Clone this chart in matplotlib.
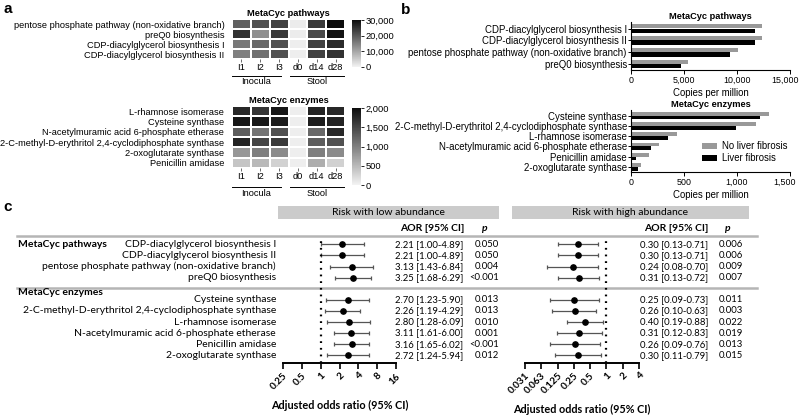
import numpy as np
import matplotlib
matplotlib.use("Agg")
import matplotlib.pyplot as plt
from matplotlib.patches import Rectangle
from matplotlib.colors import LinearSegmentedColormap
import matplotlib.transforms as mtrans

plt.rcParams['font.family'] = ['Liberation Sans', 'DejaVu Sans']

# ---- panel a: heatmaps ----
samples = ["I1", "I2", "I3", "d0", "d14", "d28"]
heat_pathways = ["pentose phosphate pathway (non-oxidative branch)", "preQ0 biosynthesis",
                 "CDP-diacylglycerol biosynthesis I", "CDP-diacylglycerol biosynthesis II"]
heat_pathway_vals = [[19000, 21000, 23000, 1000, 24000, 30000],
                     [25000, 13000, 24000, 1000, 22000, 29000],
                     [16000, 18000, 21000, 800, 23000, 26000],
                     [15000, 17000, 21000, 800, 23000, 25000]]
heat_enzymes = ["L-rhamnose isomerase", "Cysteine synthase",
                "N-acetylmuramic acid 6-phosphate etherase",
                "2-C-methyl-D-erythritol 2,4-cyclodiphosphate synthase",
                "2-oxoglutarate synthase", "Penicillin amidase"]
heat_enzyme_vals = [[1750, 1650, 1900, 50, 1800, 1750],
                    [1900, 1900, 1850, 50, 1850, 1800],
                    [1300, 1100, 1400, 50, 1200, 1750],
                    [1800, 1500, 1600, 50, 1300, 1400],
                    [800, 1000, 900, 50, 1000, 900],
                    [400, 500, 300, 50, 600, 300]]

# ---- panel b: bars ----
bar_pathways = ["CDP-diacylglycerol biosynthesis I", "CDP-diacylglycerol biosynthesis II",
                "pentose phosphate pathway (non-oxidative branch)", "preQ0 biosynthesis"]
bar_path_nofib = [12400, 12400, 10100, 5400]
bar_path_fib = [11700, 11700, 9300, 4700]
bar_enzymes = ["Cysteine synthase", "2-C-methyl-D-erythritol 2,4-cyclodiphosphate synthase",
               "L-rhamnose isomerase", "N-acetylmuramic acid 6-phosphate etherase",
               "Penicillin amidase", "2-oxoglutarate synthase"]
bar_enz_nofib = [1300, 1180, 430, 265, 170, 95]
bar_enz_fib = [1220, 990, 350, 185, 50, 65]

# ---- panel c: forest ----
forest_pathways = ["CDP-diacylglycerol biosynthesis I", "CDP-diacylglycerol biosynthesis II",
                   "pentose phosphate pathway (non-oxidative branch)", "preQ0 biosynthesis"]
forest_enzymes = ["Cysteine synthase", "2-C-methyl-D-erythritol 2,4-cyclodiphosphate synthase",
                  "L-rhamnose isomerase", "N-acetylmuramic acid 6-phosphate etherase",
                  "Penicillin amidase", "2-oxoglutarate synthase"]
low_aor = [2.21, 2.21, 3.13, 3.25, 2.70, 2.26, 2.80, 3.11, 3.16, 2.72]
low_lo = [1.00, 1.00, 1.43, 1.68, 1.23, 1.19, 1.28, 1.61, 1.65, 1.24]
low_hi = [4.89, 4.89, 6.84, 6.29, 5.90, 4.29, 6.09, 6.00, 6.02, 5.94]
low_p = ["0.050", "0.050", "0.004", "<0.001", "0.013", "0.013", "0.010", "0.001", "<0.001", "0.012"]
high_aor = [0.30, 0.30, 0.24, 0.31, 0.25, 0.26, 0.40, 0.31, 0.26, 0.30]
high_lo = [0.13, 0.13, 0.08, 0.13, 0.09, 0.10, 0.19, 0.12, 0.09, 0.11]
high_hi = [0.71, 0.71, 0.70, 0.72, 0.73, 0.63, 0.88, 0.83, 0.76, 0.79]
high_p = ["0.006", "0.006", "0.009", "0.007", "0.011", "0.003", "0.022", "0.019", "0.013", "0.015"]
low_ticks = [0.25, 0.5, 1, 2, 4, 8, 16]
low_ticklabels = ["0.25", "0.5", "1", "2", "4", "8", "16"]
high_ticks = [2 ** -5, 2 ** -4, 0.125, 0.25, 0.5, 1, 2, 4]
high_ticklabels = ["0.031", "0.063", "0.125", "0.25", "0.5", "1", "2", "4"]

W, H = 800, 415
fig = plt.figure(figsize=(W / 100, H / 100), dpi=100)


def px_axes(l, t, r, b):
    ax = fig.add_axes([l / W, 1 - b / H, (r - l) / W, (b - t) / H])
    ax.patch.set_alpha(0)
    return ax


ov = px_axes(0, 0, W, H)
ov.set_xlim(0, W)
ov.set_ylim(H, 0)
ov.axis('off')

FS = 6.7
cmap = LinearSegmentedColormap.from_list('gr', ['#f3f3f3', '#0c0c0c'])


def heatmap(rows, vals, vmax, top, bottom, cb_top, cb_bottom, cticks, title, group_y):
    ax = px_axes(232, top, 345, bottom)
    mesh = ax.pcolormesh(np.array(vals), cmap=cmap, vmin=0, vmax=vmax,
                         edgecolors='white', linewidth=1.1)
    ax.set_ylim(len(rows), 0)
    ax.set_yticks(np.arange(len(rows)) + 0.5)
    ax.set_yticklabels(rows, fontsize=FS)
    ax.set_xticks(np.arange(len(samples)) + 0.5)
    ax.set_xticklabels(samples, fontsize=FS)
    ax.tick_params(axis='y', left=False, pad=2)
    ax.tick_params(axis='x', length=2, width=0.6, pad=1, color='#555555')
    for s in ax.spines.values():
        s.set_visible(False)
    ax.set_title(title, fontsize=FS, fontweight='bold', pad=2)
    cax = px_axes(352, cb_top, 361, cb_bottom)
    cb = fig.colorbar(mesh, cax=cax, ticks=cticks)
    cb.outline.set_visible(False)
    cb.ax.set_yticklabels([f"{t:,}" for t in cticks], fontsize=FS)
    cb.ax.tick_params(length=2, width=0.6, pad=1)
    for x0, x1, lab in [(232, 281, "Inocula"), (290, 344, "Stool")]:
        ov.plot([x0, x1], [group_y, group_y], color='black', lw=0.7)
        ov.text((x0 + x1) / 2, group_y + 6, lab, fontsize=FS, ha='center', va='center')


heatmap(heat_pathways, heat_pathway_vals, 30000, 19, 59, 20, 67,
        [0, 10000, 20000, 30000], "MetaCyc pathways", 76)
heatmap(heat_enzymes, heat_enzyme_vals, 2000, 106, 168, 108, 185,
        [0, 500, 1000, 1500, 2000], "MetaCyc enzymes", 187)


def bars(cats, nofib, fib, top, bottom, xmax, xticks, title, legend=False):
    ax = px_axes(631, top, 790, bottom)
    y = np.arange(len(cats))
    ax.barh(y - 0.19, nofib, height=0.36, color='#999999', label='No liver fibrosis')
    ax.barh(y + 0.19, fib, height=0.36, color='black', label='Liver fibrosis')
    ax.set_ylim(len(cats) - 0.5, -0.55)
    ax.set_xlim(0, xmax)
    ax.set_yticks(y)
    ax.set_yticklabels(cats, fontsize=6.9)
    ax.set_xticks(xticks)
    ax.set_xticklabels([f"{t:,}" for t in xticks], fontsize=6.4)
    ax.tick_params(axis='y', length=2, width=0.7, pad=1)
    ax.tick_params(axis='x', length=3, width=0.7, pad=1.5)
    # keep the widest end label inside the figure
    last = ax.get_xticklabels()[-1]
    last.set_transform(last.get_transform() +
                       mtrans.ScaledTranslation(-5 / 100, 0, fig.dpi_scale_trans))
    for s in ['top', 'right']:
        ax.spines[s].set_visible(False)
    for s in ['left', 'bottom']:
        ax.spines[s].set_linewidth(0.8)
    ax.set_xlabel("Copies per million", fontsize=6.9, labelpad=2)
    ax.set_title(title, fontsize=FS, fontweight='bold', pad=2)
    if legend:
        ax.legend(loc='lower right', bbox_to_anchor=(1.04, 0.0), frameon=False,
                  fontsize=6.9, handlelength=1.6, handleheight=0.6,
                  handletextpad=0.5, labelspacing=0.2)


bars(bar_pathways, bar_path_nofib, bar_path_fib, 22, 70, 15000,
     [0, 5000, 10000, 15000], "MetaCyc pathways")
bars(bar_enzymes, bar_enz_nofib, bar_enz_fib, 110, 172, 1500,
     [0, 500, 1000, 1500], "MetaCyc enzymes", legend=True)

# ---- panel c ----
CF = 'Lato'
CS = 7.5
NS = 6.8
row0_px, row_step, axis_px = 244.3, 11.1, 363
pos = np.r_[np.arange(len(forest_pathways)), np.arange(len(forest_enzymes)) + len(forest_pathways) + 1]
y_bottom = (axis_px - row0_px) / row_step
y_top = -0.4
top_px = row0_px + y_top * row_step


def forest(l, r, aor, lo, hi, xlim, ticks, ticklabels):
    ax = px_axes(l, top_px, r, axis_px)
    aor, lo, hi = map(np.array, (aor, lo, hi))
    ax.set_xscale('log', base=2)
    ax.errorbar(aor, pos, xerr=[aor - lo, hi - aor], fmt='o', color='black', ms=3.8,
                ecolor='#555555', elinewidth=0.9, capsize=1.3, capthick=0.9)
    ax.axvline(1, color='black', lw=1.6, ls=(0, (0.8, 2.2)))
    ax.set_ylim(y_bottom, y_top)
    ax.set_xlim(*xlim)
    ax.set_yticks([])
    for s in ['top', 'right', 'left']:
        ax.spines[s].set_visible(False)
    ax.spines['bottom'].set_linewidth(1.4)
    ax.set_xticks(ticks)
    ax.set_xticklabels(ticklabels, rotation=45, ha='right', rotation_mode='anchor',
                       fontsize=7.2, fontweight='bold', family=CF)
    ax.minorticks_off()
    ax.tick_params(axis='x', length=4.5, width=1.2, pad=1.5)
    ax.set_xlabel("Adjusted odds ratio (95% CI)", fontsize=7.8, fontweight='bold',
                  family=CF, labelpad=6)
    return ax


fl = forest(283, 396, low_aor, low_lo, low_hi, (0.25, 16), low_ticks, low_ticklabels)
fh = forest(525, 639, high_aor, high_lo, high_hi, (2 ** -5, 4), high_ticks, high_ticklabels)

tr = mtrans.blended_transform_factory(ov.transData, fl.transData)
for yy, name in zip(pos, forest_pathways + forest_enzymes):
    ov.text(276, yy, name, transform=tr, ha='right', va='center', fontsize=CS, family=CF)
for i, yy in enumerate(pos):
    ov.text(395, yy, f"{low_aor[i]:.2f} [{low_lo[i]:.2f}-{low_hi[i]:.2f}]", transform=tr,
            ha='left', va='center', fontsize=NS, family=CF)
    ov.text(499, yy, low_p[i], transform=tr, ha='right', va='center', fontsize=NS, family=CF)
    ov.text(640, yy, f"{high_aor[i]:.2f} [{high_lo[i]:.2f}-{high_hi[i]:.2f}]", transform=tr,
            ha='left', va='center', fontsize=NS, family=CF)
    ov.text(743, yy, high_p[i], transform=tr, ha='right', va='center', fontsize=NS, family=CF)
ov.text(18, pos[0], "MetaCyc pathways", transform=tr, ha='left', va='center',
        fontsize=CS, fontweight='bold', family=CF)
ov.text(18, pos[len(forest_pathways)] - 0.65, "MetaCyc enzymes", transform=tr, ha='left',
        va='center', fontsize=CS, fontweight='bold', family=CF)

# headers
for x0, x1, lab in [(278, 499, "Risk with low abundance"), (512, 749, "Risk with high abundance")]:
    ov.add_patch(Rectangle((x0, 206), x1 - x0, 13, color='#cbcbcb', lw=0))
    ov.text((x0 + x1) / 2, 212.5, lab, ha='center', va='center', fontsize=CS, family=CF)
for xa, xp in [(432, 485), (676, 728)]:
    ov.text(xa, 228, "AOR [95% CI]", ha='center', va='center', fontsize=CS,
            fontweight='bold', family=CF)
    ov.text(xp, 228, "p", ha='center', va='center', fontsize=CS, fontweight='bold',
            style='italic', family=CF)
for yy in [236, 288]:
    ov.plot([17, 757], [yy, yy], color='#b5b5b5', lw=1.8)

# panel letters
for x, y, lab in [(3, 9, "a"), (401, 10, "b"), (3, 207, "c")]:
    ov.text(x, y, lab, fontsize=11, fontweight='bold', ha='left', va='center')

fig.savefig("out.png", dpi=100)
